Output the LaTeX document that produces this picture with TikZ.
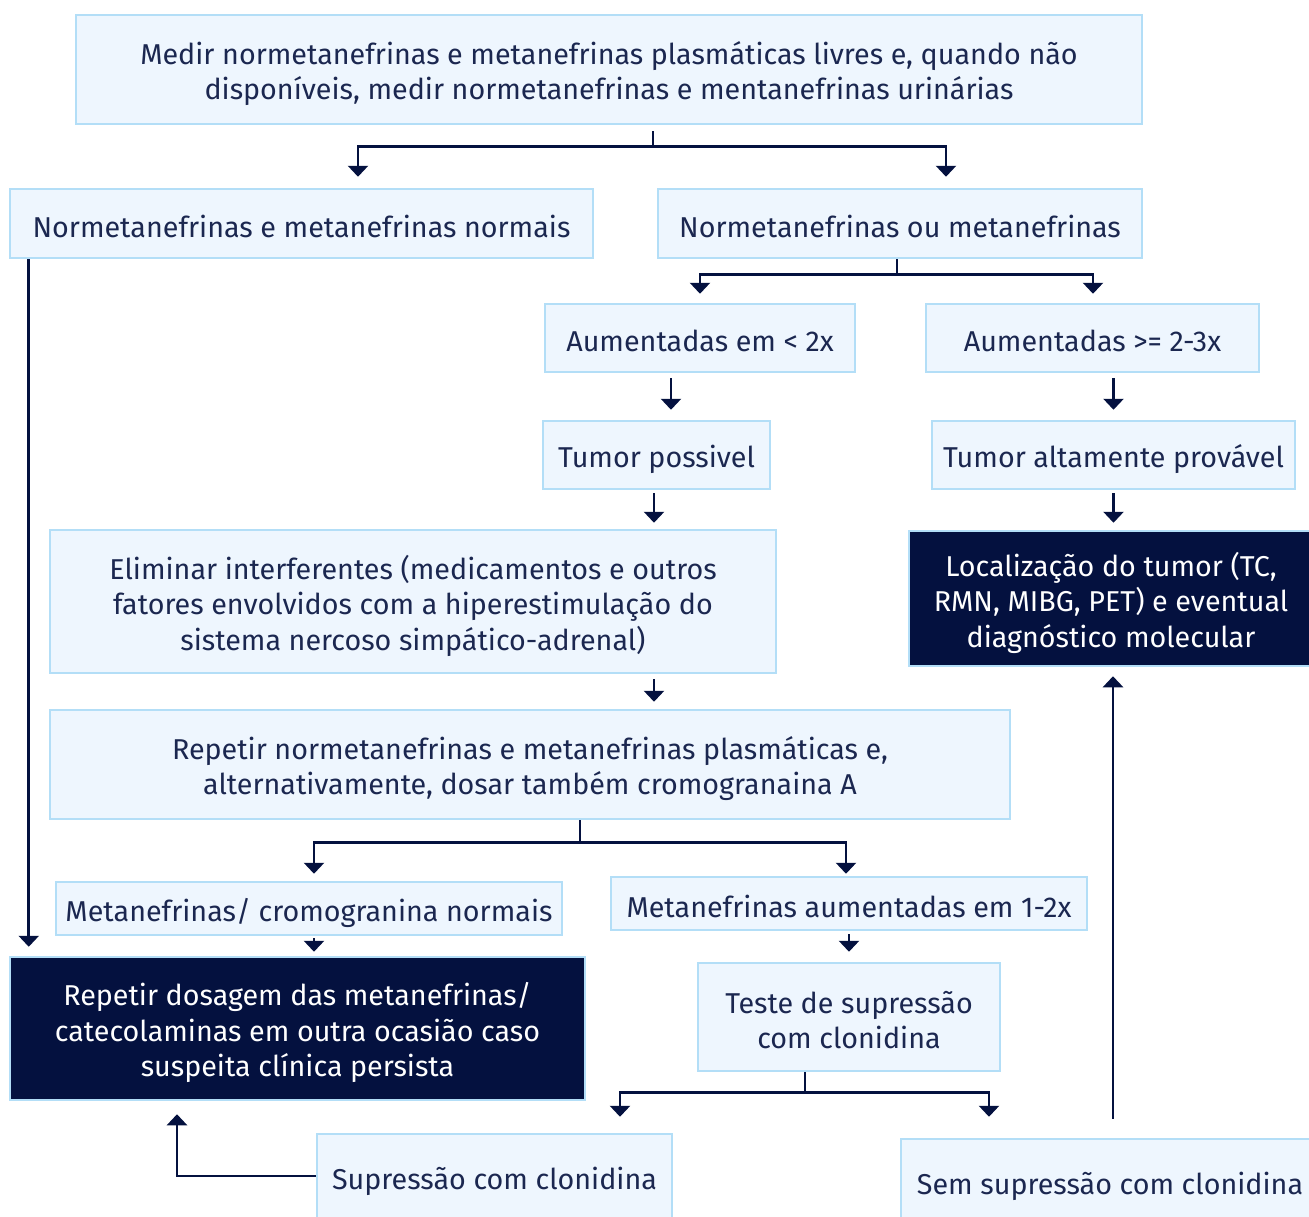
\documentclass[tikz,border=0pt]{standalone}
\usepackage{fontspec}
\setmainfont{Fira Sans}
\usetikzlibrary{arrows.meta}
\definecolor{boxfill}{HTML}{EEF6FE}
\definecolor{boxedge}{HTML}{B3DEF7}
\definecolor{navy}{HTML}{04113F}
\definecolor{txt}{HTML}{1B2750}
\tikzset{
  box/.style={rectangle, draw=boxedge, fill=boxfill, line width=2.5pt, inner sep=0pt},
  darkbox/.style={box, fill=navy},
  lbl/.style={text=txt, align=center, inner sep=0pt, yshift=-4pt,
    font=\fontsize{28.7}{35.5}\selectfont},
  dlbl/.style={lbl, text=white},
  conn/.style={draw=navy, line width=2.6pt},
  arr/.style={conn, -{Triangle[width=20pt,length=11pt]}},
}
\begin{document}
\begin{tikzpicture}[x=1pt,y=-1pt]
\clip (0,0) rectangle (1309,1216);
\fill[white] (0,0) rectangle (1309,1216);
\node[box, minimum width=1066pt, minimum height=109pt,
  label={[lbl]center:{Medir normetanefrinas e metanefrinas plasmáticas livres e, quando não\\disponíveis, medir normetanefrinas e mentanefrinas urinárias}}] (top) at (609,69.5) {};
\node[box, minimum width=583pt, minimum height=69pt,
  label={[lbl, yshift=1pt]center:{Normetanefrinas e metanefrinas normais}}] (normais) at (301.5,223.5) {};
\node[box, minimum width=484pt, minimum height=69pt,
  label={[lbl, yshift=1pt]center:{Normetanefrinas ou metanefrinas}}] (ou) at (900,223.5) {};
\node[box, minimum width=310pt, minimum height=68pt,
  label={[lbl, yshift=1pt]center:{Aumentadas em < 2x}}] (lt2) at (700,338) {};
\node[box, minimum width=333pt, minimum height=68pt,
  label={[lbl, yshift=1pt]center:{Aumentadas >= 2-3x}}] (ge2) at (1092.5,338) {};
\node[box, minimum width=227pt, minimum height=68pt,
  label={[lbl]center:{Tumor possivel}}] (tposs) at (656.5,455) {};
\node[box, minimum width=363pt, minimum height=68pt,
  label={[lbl]center:{Tumor altamente provável}}] (talt) at (1113.5,455) {};
\node[box, minimum width=726pt, minimum height=143pt,
  label={[lbl]center:{Eliminar interferentes (medicamentos e outros\\fatores envolvidos com a hiperestimulação do\\sistema nercoso simpático-adrenal)}}] (elim) at (413,601.5) {};
\node[darkbox, minimum width=404pt, minimum height=135pt,
  label={[dlbl]center:{Localização do tumor (TC,\\RMN, MIBG, PET) e eventual\\diagnóstico molecular}}] (loc) at (1111,598.5) {};
\node[box, minimum width=960pt, minimum height=109pt,
  label={[lbl]center:{Repetir normetanefrinas e metanefrinas plasmáticas e,\\alternativamente, dosar também cromogranaina A}}] (rep) at (530,764.5) {};
\node[box, minimum width=506pt, minimum height=53pt,
  label={[lbl]center:{Metanefrinas/ cromogranina normais}}] (mnorm) at (309,908.5) {};
\node[box, minimum width=476pt, minimum height=53pt,
  label={[lbl, yshift=1pt]center:{Metanefrinas aumentadas em 1-2x}}] (maum) at (849,903.5) {};
\node[darkbox, minimum width=575pt, minimum height=143pt,
  label={[dlbl]center:{Repetir dosagem das metanefrinas/\\catecolaminas em outra ocasião caso\\suspeita clínica persista}}] (repdos) at (297.5,1028.5) {};
\node[box, minimum width=302pt, minimum height=108pt,
  label={[lbl, yshift=1pt]center:{Teste de supressão\\com clonidina}}] (teste) at (849,1017) {};
\node[box, minimum width=355pt, minimum height=96pt,
  label={[lbl, yshift=5pt]center:{Supressão com clonidina}}] (sup) at (494.5,1182) {};
\node[box, minimum width=418pt, minimum height=92pt,
  label={[lbl, yshift=3pt]center:{Sem supressão com clonidina}}] (sem) at (1110,1185) {};
% connectors
\draw[conn] ([xshift=44pt,yshift=-6pt]top.south) -- ([xshift=44pt,yshift=-21pt]top.south);
\draw[arr] ([xshift=44pt,yshift=-21pt]top.south) -| ([xshift=56.5pt,yshift=11pt]normais.north);
\draw[arr] ([xshift=44pt,yshift=-21pt]top.south) -| ([xshift=46pt,yshift=11pt]ou.north);
\draw[conn] ([xshift=-3pt]ou.south) -- ([xshift=-3pt,yshift=-15pt]ou.south);
\draw[arr] ([xshift=-3pt,yshift=-15pt]ou.south) -| ([yshift=9pt]lt2.north);
\draw[arr] ([xshift=-3pt,yshift=-15pt]ou.south) -| ([xshift=0.5pt,yshift=9pt]ge2.north);
\draw[arr] ([xshift=-29pt,yshift=-5pt]lt2.south) -- ([xshift=14.5pt,yshift=10pt]tposs.north);
\draw[arr] ([xshift=21pt,yshift=-5pt]ge2.south) -- ([yshift=10pt]talt.north);
\draw[arr, shorten <=3pt, shorten >=6pt] ([xshift=-2.5pt]tposs.south) -- ([xshift=-2.5pt]tposs.south |- elim.north);
\draw[arr, shorten <=3pt, shorten >=7pt] (talt.south) -- (talt.south |- loc.north);
\draw[arr, shorten <=5pt, shorten >=7pt] ([xshift=241pt]elim.south) -- ([xshift=241pt]elim.south |- rep.north);
\draw[conn] ([xshift=50pt]rep.south) -- ([xshift=50pt,yshift=-22pt]rep.south);
\draw[arr] ([xshift=50pt,yshift=-22pt]rep.south) -| ([xshift=5pt,yshift=7pt]mnorm.north);
\draw[arr] ([xshift=50pt,yshift=-22pt]rep.south) -| ([xshift=-3pt,yshift=2pt]maum.north);
\draw[arr] ([xshift=20pt]normais.south west) -- ([xshift=20pt,yshift=9pt]repdos.north west);
\draw[arr, shorten <=2pt, shorten >=4pt] ([xshift=5pt]mnorm.south) -- ([xshift=5pt]mnorm.south |- repdos.north);
\draw[arr, shorten <=3pt, shorten >=10pt] (maum.south) -- (teste.north);
\draw[conn] ([xshift=-44pt]teste.south) -- ([xshift=-44pt,yshift=-20pt]teste.south);
\draw[arr] ([xshift=-44pt,yshift=-20pt]teste.south) -| ([xshift=125.5pt,yshift=16pt]sup.north);
\draw[arr] ([xshift=-44pt,yshift=-20pt]teste.south) -| ([xshift=-121pt,yshift=21pt]sem.north);
\draw[arr] ([yshift=6pt]sup.west) -| ([xshift=-120.5pt,yshift=-13pt]repdos.south);
\draw[arr] ([xshift=3pt,yshift=19pt]sem.north) -- ([xshift=2pt,yshift=-9pt]loc.south);
\end{tikzpicture}
\end{document}
